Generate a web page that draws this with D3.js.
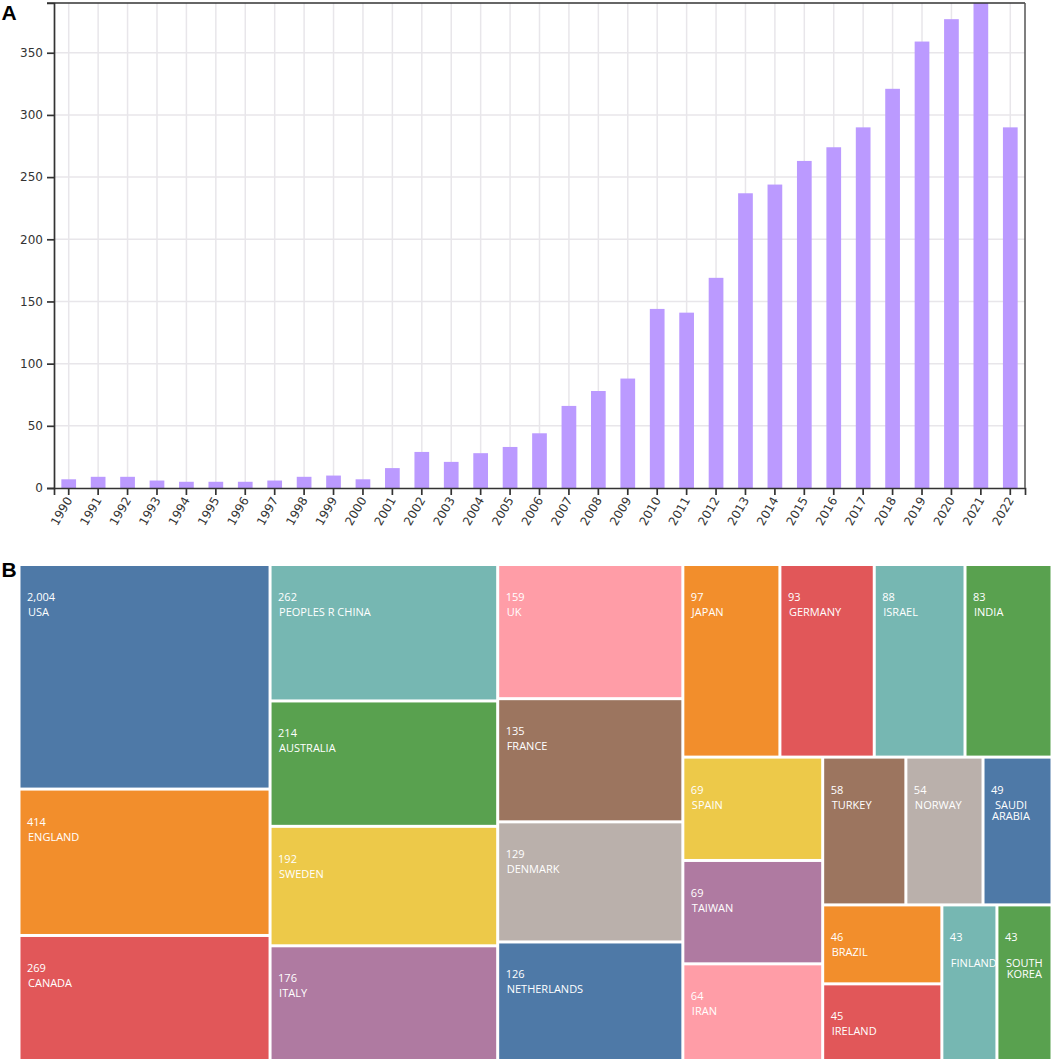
<html>
  <head>
    <meta charset="UTF-8">
    <script src="https://d3js.org/d3.v7.min.js" charset="UTF-8"></script>
    <style>
      body { margin: 0; background: #fff; }
      svg { display: block; }
      .axis text { font-family: "DejaVu Sans", sans-serif; font-size: 12px; fill: #333; }
      .axis path, .axis line { stroke: #333; stroke-width: 1.7px; }
      .grid line { stroke: #e8e6ea; stroke-width: 1.5px; }
      .cell text { font-family: "Open Sans", sans-serif; font-size: 11px; fill: #fff; }
      .letter { font-family: "Liberation Sans", sans-serif; font-weight: bold; font-size: 21px; fill: #000; }
    </style>
  </head>
  <body>
    <svg width="1053" height="1061"></svg>

    <script type="text/javascript">
      // Publications per year
      var years = [1990, 1991, 1992, 1993, 1994, 1995, 1996, 1997, 1998, 1999, 2000, 2001, 2002, 2003, 2004, 2005,
                   2006, 2007, 2008, 2009, 2010, 2011, 2012, 2013, 2014, 2015, 2016, 2017, 2018, 2019, 2020, 2021, 2022];
      var counts = [7, 9, 9, 6, 5, 5, 5, 6, 9, 10, 7, 16, 29, 21, 28, 33,
                    44, 66, 78, 88, 144, 141, 169, 237, 244, 263, 274, 290, 321, 359, 377, 390, 290];
      var yTicks = [0, 50, 100, 150, 200, 250, 300, 350];

      // Publications per country
      var countries = ['USA', 'ENGLAND', 'CANADA', 'PEOPLES R CHINA', 'AUSTRALIA', 'SWEDEN', 'ITALY', 'UK', 'FRANCE',
                       'DENMARK', 'NETHERLANDS', 'JAPAN', 'GERMANY', 'ISRAEL', 'INDIA', 'SPAIN', 'TAIWAN', 'IRAN',
                       'TURKEY', 'NORWAY', 'SAUDI ARABIA', 'BRAZIL', 'IRELAND', 'FINLAND', 'SOUTH KOREA'];
      var countryCounts = [2004, 414, 269, 262, 214, 192, 176, 159, 135, 129, 126, 97, 93, 88, 83, 69, 69, 64,
                           58, 54, 49, 46, 45, 43, 43];
      // How the countries are grouped in the treemap, levels alternate between columns and rows
      var tiling = [
        ['USA', 'ENGLAND', 'CANADA'],
        ['PEOPLES R CHINA', 'AUSTRALIA', 'SWEDEN', 'ITALY'],
        ['UK', 'FRANCE', 'DENMARK', 'NETHERLANDS'],
        [
          ['JAPAN', 'GERMANY', 'ISRAEL', 'INDIA'],
          [
            ['SPAIN', 'TAIWAN', 'IRAN'],
            [
              ['TURKEY', 'NORWAY', 'SAUDI ARABIA'],
              [['BRAZIL', 'IRELAND'], 'FINLAND', 'SOUTH KOREA']
            ]
          ]
        ]
      ];
      // Names that wrap inside their cell, an empty string is a blank line
      var wrapped = { 'SAUDI ARABIA': ['SAUDI', 'ARABIA'], 'FINLAND': ['', 'FINLAND'], 'SOUTH KOREA': ['', 'SOUTH', 'KOREA'] };

      var svg = d3.select('svg');

      // ---- A: bar chart
      var plotLeft = 54, plotRight = 1025, plotTop = 3, plotBottom = 488;
      var x = d3.scaleBand().domain(years).range([plotLeft, plotRight]).paddingInner(0.5).paddingOuter(0.25);
      var y = d3.scaleLinear().domain([0, 390]).range([plotBottom, plotTop]);

      // Grid
      var grid = svg.append('g').attr('class', 'grid');
      grid.selectAll('.v').data(years).enter().append('line')
        .attr('class', 'v')
        .attr('x1', function(d) { return x(d) + x.bandwidth() / 2; })
        .attr('x2', function(d) { return x(d) + x.bandwidth() / 2; })
        .attr('y1', plotTop).attr('y2', plotBottom);
      grid.selectAll('.h').data(yTicks.slice(1)).enter().append('line')
        .attr('class', 'h')
        .attr('x1', plotLeft).attr('x2', plotRight)
        .attr('y1', function(d) { return y(d); })
        .attr('y2', function(d) { return y(d); });

      // Bars
      svg.append('g').selectAll('rect').data(years).enter().append('rect')
        .attr('fill', '#bb9aff')
        .attr('x', function(d) { return x(d); })
        .attr('width', x.bandwidth())
        .attr('y', function(d, i) { return y(counts[i]); })
        .attr('height', function(d, i) { return plotBottom - y(counts[i]); });

      // Axes
      var yAxis = svg.append('g').attr('class', 'axis')
        .attr('transform', 'translate(' + plotLeft + ',0)')
        .call(d3.axisLeft(y).tickValues(yTicks).tickSize(7).tickPadding(4));
      var xAxis = svg.append('g').attr('class', 'axis')
        .attr('transform', 'translate(0,' + plotBottom + ')')
        .call(d3.axisBottom(x).tickSize(7));
      xAxis.selectAll('text')
        .attr('text-anchor', 'end')
        .attr('dx', 0).attr('dy', 0)
        .attr('x', 0).attr('y', 0)
        .attr('transform', 'translate(4,12) rotate(-60)');

      // Top and right frame
      svg.append('line').attr('x1', plotLeft - 7).attr('x2', plotRight).attr('y1', plotTop).attr('y2', plotTop)
        .attr('stroke', '#333').attr('stroke-width', 1.5);
      svg.append('line').attr('x1', plotRight).attr('x2', plotRight).attr('y1', plotTop).attr('y2', plotBottom)
        .attr('stroke', '#555').attr('stroke-width', 1.5);

      svg.append('text').attr('class', 'letter').attr('x', 1.5).attr('y', 19.5).text('A');
      svg.append('text').attr('class', 'letter').attr('x', 1.5).attr('y', 577).text('B');

      // ---- B: treemap, the cell area follows the log of the count
      var area = d3.scaleLog().base(Math.E).domain([21.6, 21.6 * Math.E]).range([0, 1]);

      function toNode(item) {
        if (Array.isArray(item)) return { children: item.map(toNode) };
        return { name: item, count: countryCounts[countries.indexOf(item)] };
      }

      var root = d3.hierarchy(toNode(tiling))
        .sum(function(d) { return d.count ? area(d.count) : 0; });

      d3.treemap()
        .tile(d3.treemapSliceDice)
        .size([1030, 493])
        .paddingInner(3)(root);

      var colour = d3.scaleOrdinal(d3.schemeTableau10);
      var cell = svg.append('g').attr('transform', 'translate(20.5,566)')
        .selectAll('g').data(root.leaves()).enter().append('g')
        .attr('class', 'cell')
        .attr('transform', function(d) { return 'translate(' + d.x0 + ',' + d.y0 + ')'; });

      cell.append('rect')
        .attr('width', function(d) { return d.x1 - d.x0; })
        .attr('height', function(d) { return d.y1 - d.y0; })
        .attr('fill', function(d, i) { return colour(i); });

      cell.append('text').attr('x', 6.5).attr('y', 35)
        .text(function(d) { return d3.format(',')(d.data.count); });

      cell.each(function(d) {
        var lines = wrapped[d.data.name] || [d.data.name];
        var g = d3.select(this);
        var texts = lines.map(function(t, i) {
          return g.append('text').attr('x', 7.5).attr('y', 50 + i * 11).text(t);
        });
        // Wrapped lines are centred on each other
        var widths = texts.map(function(t) { return t.node().getComputedTextLength(); });
        var widest = d3.max(widths);
        texts.forEach(function(t, i) { t.attr('x', 7.5 + (widest - widths[i]) / 2); });
      });
    </script>
  </body>
</html>
